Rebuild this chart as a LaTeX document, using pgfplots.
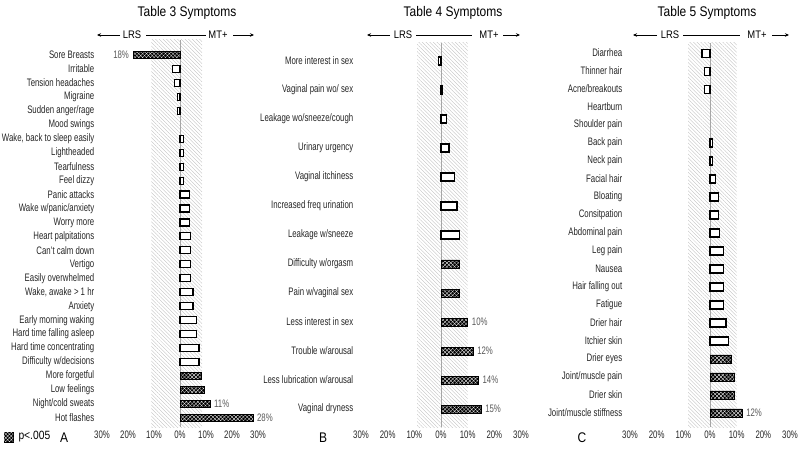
\documentclass[border=0pt]{standalone}
\usepackage{pgfplots}
\pgfplotsset{compat=1.18}
\usetikzlibrary{patterns,patterns.meta,arrows.meta}
\usepackage{fontspec}
\setmainfont{Liberation Sans}[FakeStretch=0.72]
\newfontfamily\titlefont{Liberation Sans}[FakeStretch=0.86]
\newcommand{\lab}{\fontsize{10.9}{12}\selectfont}
\tikzset{
  sig/.style={fill=black, draw=black, line width=0.6pt,
    postaction={pattern={Lines[angle=45,distance=2.7pt,line width=0.28pt]}, pattern color=white},
    postaction={pattern={Lines[angle=-45,distance=2.7pt,line width=0.28pt]}, pattern color=white}},
  plain/.style={fill=white, draw=black, line width=1.1pt},
  band/.style={pattern={Lines[angle=-45,distance=2.6pt,line width=0.35pt]}, pattern color=black!25},
}
\pgfplotsset{
  panel/.style={xbar, bar shift=0pt, scale only axis, clip=false, anchor=south west,
    xmin=-30, xmax=30, y dir=reverse,
    axis line style={draw=none}, tick style={draw=none},
    xtick={-30,-20,...,30}, xticklabels={30\%,20\%,10\%,0\%,10\%,20\%,30\%},
    ticklabel style={font=\lab, text=black!85},
    /pgf/number format/assume math mode=true,
  },
  vlab/.style={nodes near coords, point meta=explicit symbolic,
    every node near coord/.append style={font=\lab, text=black!65, anchor=#1, inner sep=4pt}},
}
\begin{document}
\begin{tikzpicture}[x=1bp,y=1bp]
\path[use as bounding box] (0,0) rectangle (800,455);

% ---------- Panel A ----------
\begin{axis}[panel, at={(102bp,28bp)}, width=156bp, height=387bp,
  ymin=-1.07, ymax=26.65, bar width=7bp,
  ytick={0,...,26},
  yticklabels={Sore Breasts,Irritable,Tension headaches,Migraine,Sudden anger/rage,Mood swings,{Wake, back to sleep easily},Lightheaded,Tearfulness,Feel dizzy,Panic attacks,Wake w/panic/anxiety,Worry more,Heart palpitations,Can't calm down,Vertigo,Easily overwhelmed,{Wake, awake > 1 hr},Anxiety,Early morning waking,Hard time falling asleep,Hard time concentrating,Difficulty w/decisions,More forgetful,Low feelings,Night/cold sweats,Hot flashes}]
\fill[band] (axis cs:-11,-1.07) rectangle (axis cs:8.5,26.65);
\draw[black!35, line width=0.8pt] (axis cs:0,-1.07) -- (axis cs:0,26.65);
\addplot[plain] coordinates {(-3,1) (-2,2) (-0.8,3) (-0.8,4) (1.5,6) (1.5,7) (1.5,8) (1.5,9) (3.5,10) (3.5,11) (3.5,12) (4.2,13) (4,14) (4,15) (4,16) (5,17) (5,18) (6.4,19) (6.4,20) (7.3,21) (7.3,22)};
\addplot[sig, vlab=east] coordinates {(-18,0) [18\%]};
\addplot[sig, vlab=west] coordinates {(8.2,23) [] (9.4,24) [] (11.5,25) [11\%] (28,26) [28\%]};
\end{axis}

% ---------- Panel B ----------
\begin{axis}[panel, at={(361bp,28bp)}, width=160bp, height=384bp,
  ymin=-0.62, ymax=12.62, bar width=8bp,
  ytick={0,...,12},
  yticklabels={More interest in sex,Vaginal pain wo/ sex,Leakage wo/sneeze/cough,Urinary urgency,Vaginal itchiness,Increased freq urination,Leakage w/sneeze,Difficulty w/orgasm,Pain w/vaginal sex,Less interest in sex,Trouble w/arousal,Less lubrication w/arousal,Vaginal dryness}]
\fill[band] (axis cs:-9,-0.62) rectangle (axis cs:10,12.62);
\draw[black!35, line width=0.8pt] (axis cs:0,-0.62) -- (axis cs:0,12.62);
\addplot[plain] coordinates {(-1,0) (0.6,1) (2,2) (3,3) (5,4) (6,5) (7,6)};
\addplot[sig, vlab=west] coordinates {(7,7) [] (7,8) [] (10,9) [10\%] (12,10) [12\%] (14,11) [14\%] (15,12) [15\%]};
\end{axis}

% ---------- Panel C ----------
\begin{axis}[panel, at={(630bp,28bp)}, width=160bp, height=384bp,
  ymin=-0.56, ymax=20.78, bar width=8bp,
  ytick={0,...,20},
  yticklabels={Diarrhea,Thinner hair,Acne/breakouts,Heartburn,Shoulder pain,Back pain,Neck pain,Facial hair,Bloating,Consitpation,Abdominal pain,Leg pain,Nausea,Hair falling out,Fatigue,Drier hair,Itchier skin,Drier eyes,Joint/muscle pain,Drier skin,Joint/muscle stiffness}]
\fill[band] (axis cs:-8.2,-0.56) rectangle (axis cs:10,20.78);
\draw[black!35, line width=0.8pt] (axis cs:0,-0.56) -- (axis cs:0,20.78);
\addplot[plain] coordinates {(-3,0) (-2,1) (-2,2) (1,5) (1,6) (2,7) (3.2,8) (3.2,9) (3.4,10) (5,11) (5,12) (5,13) (5,14) (6,15) (7,16)};
\addplot[sig, vlab=west] coordinates {(8,17) [] (9,18) [] (9,19) [] (12,20) [12\%]};
\end{axis}

% ---------- titles ----------
\begin{scope}[font=\titlefont\fontsize{14}{16}\selectfont]
\node at (187,442) {Table 3 Symptoms};
\node at (453,442) {Table 4 Symptoms};
\node at (707,442) {Table 5 Symptoms};
\end{scope}

% ---------- LRS / MT+ headers ----------
\begin{scope}[font=\titlefont\fontsize{11}{12}\selectfont, line width=0.8pt]
\draw[-{Stealth[length=4pt,width=3.5pt]}] (120,420) -- (97,420);
\node at (132,420) {LRS};
\draw (146,420) -- (206,420);
\node at (218,420) {MT+};
\draw[-{Stealth[length=4pt,width=3.5pt]}] (233,420) -- (254,420);

\draw[-{Stealth[length=4pt,width=3.5pt]}] (390,420) -- (367,420);
\node at (403,420) {LRS};
\draw (416,420) -- (472,420);
\node at (489,420) {MT+};
\draw[-{Stealth[length=4pt,width=3.5pt]}] (503,420) -- (520,420);

\draw[-{Stealth[length=4pt,width=3.5pt]}] (657,420) -- (633,420);
\node at (670,420) {LRS};
\draw (683,420) -- (740,420);
\node at (757,420) {MT+};
\draw[-{Stealth[length=4pt,width=3.5pt]}] (772,420) -- (789,420);
\end{scope}

% ---------- legend and panel letters ----------
\path[sig, line width=0.4pt] (4,13) rectangle (13,23);
\node[anchor=west, font=\titlefont\fontsize{12}{13}\selectfont] at (15,18) {p<.005};
\begin{scope}[font=\titlefont\fontsize{14}{16}\selectfont]
\node at (64,17) {A};
\node at (323,17) {B};
\node at (582,17) {C};
\end{scope}
\end{tikzpicture}
\end{document}
